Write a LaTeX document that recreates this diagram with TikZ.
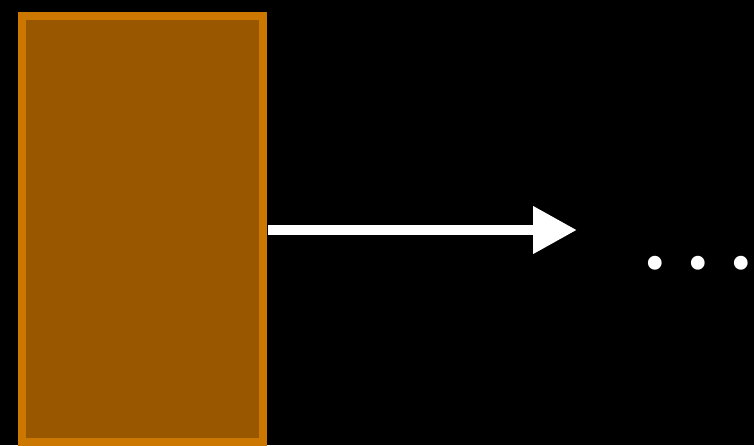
\documentclass[tikz,border=0pt]{standalone}
\usepackage{fontspec}
\setmainfont{Liberation Sans}
\newfontfamily\dotfont{Poppins}
\usetikzlibrary{arrows.meta}
\definecolor{stageedge}{RGB}{204,119,0}
\definecolor{stagefill}{RGB}{153,88,0}

\begin{document}
\begin{tikzpicture}[x=1pt,y=-1pt,>={Triangle[length=44pt,width=45pt]},
      stage/.style={draw=stageedge,fill=stagefill,line width=8pt,
        minimum width=240.4pt,minimum height=426.3pt,inner sep=0pt}]
      \fill[black] (0,0) rectangle (754,445);
      \useasboundingbox (0,0) rectangle (754,445);
      \node[stage] (block) at (142.5,229.2) {};
      \coordinate (tip) at (577,230);
      \draw[->,white,line width=10.5pt,shorten <=1.5pt] (block.east |- tip) -- (tip);
      \node[white,anchor=base west,inner sep=0pt,
        font=\dotfont\fontsize{112}{112}\selectfont] (more) at (642.8,269)
        {.\kern19.7pt.\kern19.7pt.};
    \end{tikzpicture}
\end{document}
